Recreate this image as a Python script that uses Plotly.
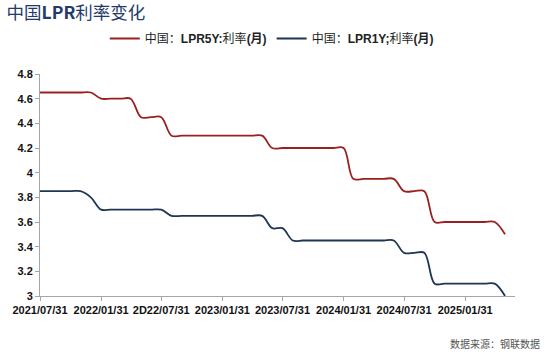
import plotly.graph_objects as go
import pandas as pd

# Monthly month-end dates, 2021/07 .. 2025/05
dates = pd.date_range("2021-07-31", periods=47, freq="ME")

lpr5y = ([4.65] * 6 + [4.60] * 4 + [4.45] * 3 + [4.30] * 10 + [4.20] * 8 +
         [3.95] * 5 + [3.85] * 3 + [3.60] * 7 + [3.50] * 1)
lpr1y = ([3.85] * 5 + [3.80] * 1 + [3.70] * 7 + [3.65] * 10 + [3.55] * 2 +
         [3.45] * 11 + [3.35] * 3 + [3.10] * 7 + [3.00] * 1)

tick_dates = ["2021-07-31", "2022-01-31", "2022-07-31", "2023-01-31",
              "2023-07-31", "2024-01-31", "2024-07-31", "2025-01-31"]
tick_labels = ["2021/07/31", "2022/01/31", "2D22/07/31", "2023/01/31",
               "2023/07/31", "2024/01/31", "2024/07/31", "2025/01/31"]
y_ticks = [3.0, 3.2, 3.4, 3.6, 3.8, 4.0, 4.2, 4.4, 4.6, 4.8]

RED = "#9A1F1F"
NAVY = "#1E3553"

fig = go.Figure()
fig.add_trace(go.Scatter(
    x=dates, y=lpr5y, mode="lines",
    line=dict(color=RED, width=1.8, shape="spline", smoothing=1.0),
    name="中国：<b>LPR5Y:</b>利率<b>(月)</b>"))
fig.add_trace(go.Scatter(
    x=dates, y=lpr1y, mode="lines",
    line=dict(color=NAVY, width=1.8, shape="spline", smoothing=1.0),
    name="中国：<b>LPR1Y;</b>利率<b>(月)</b>"))

fig.update_layout(
    width=550, height=355,
    margin=dict(l=31, r=35, t=74, b=59),
    paper_bgcolor="white", plot_bgcolor="white",
    font=dict(family="Liberation Sans, Noto Sans CJK SC, sans-serif", color="#222"),
    showlegend=True,
    legend=dict(orientation="h", x=0.488, xanchor="center", y=1.16, yanchor="middle",
                font=dict(size=12, color="#222"), itemwidth=30, bgcolor="rgba(0,0,0,0)"),
    title=dict(text="中国<b>LPR</b>利率变化", x=0.012, xanchor="left", y=0.965, yanchor="middle",
               font=dict(size=17.5, color="#1F3A6B",
                         family="Noto Sans CJK SC, Liberation Sans, sans-serif")),
)

fig.update_xaxes(
    type="date",
    range=["2021-07-31", "2025-06-30"],
    tickmode="array", tickvals=tick_dates,
    ticktext=["<b>%s</b>" % t for t in tick_labels],
    showgrid=False, zeroline=False,
    showline=True, linecolor="#A6A6A6", linewidth=1,
    ticks="outside", ticklen=4, tickcolor="#A6A6A6",
    tickfont=dict(size=11, color="#111", family="Liberation Sans, Arial, sans-serif"),
)
fig.update_yaxes(
    range=[3, 4.8],
    tickmode="array", tickvals=y_ticks,
    ticktext=["<b>%g</b>" % v for v in y_ticks],
    showgrid=False, zeroline=False,
    showline=True, linecolor="#A6A6A6", linewidth=1,
    ticks="outside", ticklen=4, tickcolor="#A6A6A6",
    tickfont=dict(size=11, color="#111", family="Liberation Sans, Arial, sans-serif"),
)

fig.add_annotation(text="数据来源：钢联数据", xref="paper", yref="paper",
                   x=(543 - 31) / 484, xanchor="right", y=-0.213, yanchor="middle",
                   showarrow=False,
                   font=dict(size=10, color="#555",
                             family="Noto Sans CJK SC, sans-serif"))

fig.write_html("out.html")
